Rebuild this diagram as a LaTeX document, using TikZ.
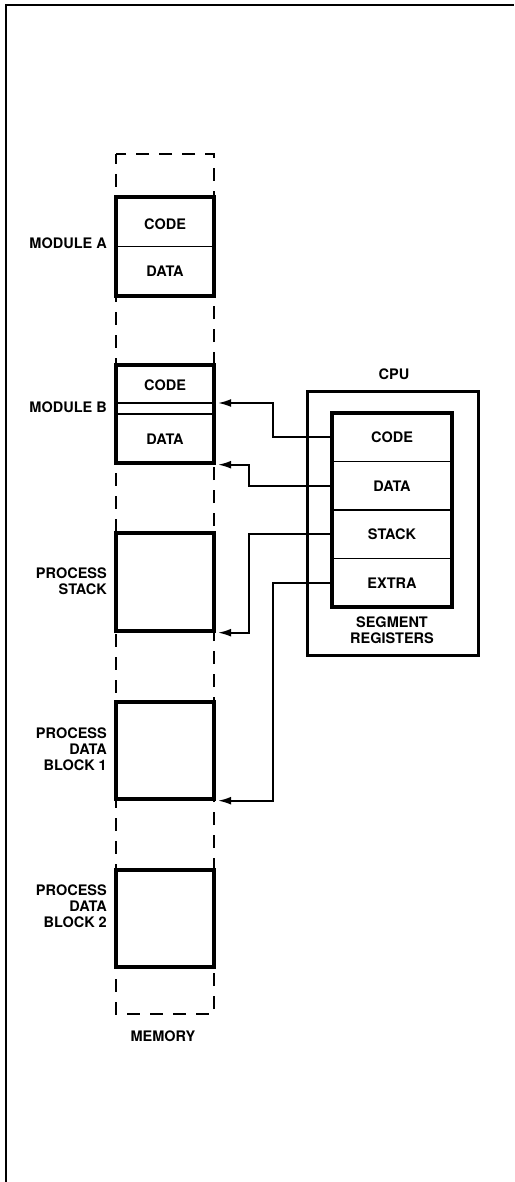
\documentclass[tikz,border=0pt]{standalone}
\usepackage{fontspec}
\setmainfont{TeX Gyre Heros}
\usetikzlibrary{arrows.meta,positioning,calc}

\begin{document}
\begin{tikzpicture}[x=1pt, y=-1pt, node distance=0pt,
  lbl/.style={font=\fontsize{14.5}{16}\selectfont\bfseries, align=right, anchor=east, inner sep=0pt},
  txt/.style={font=\fontsize{14.5}{16}\selectfont\bfseries, align=center, inner sep=0pt},
  memblock/.style={draw, line width=3.4pt, fill=white, minimum width=98pt, minimum height=98pt, inner sep=0pt},
  reg/.style={draw, line width=1.8pt, minimum width=120pt, minimum height=48.5pt, inner sep=0pt, outer sep=0pt,
    font=\fontsize{14.5}{16}\selectfont\bfseries},
  link/.style={line width=1.6pt, -{Latex[length=13pt,width=8pt]}, shorten >=2.5pt}]
  \useasboundingbox (0,0) rectangle (514,1182);
  % page frame
  \draw[line width=2.6pt] (6,1182) -- (6,5) -- (514,5);

  % memory column
  \draw[line width=2.2pt, dash pattern=on 13pt off 10pt, dash phase=3pt] (116,154) rectangle (214,1014);
  \node[txt] (mem) at (163,1036) {MEMORY};

  \node[memblock, minimum height=99pt] (modA) at (165,246.5) {};
  \draw[line width=1.8pt] (modA.west) -- (modA.east);
  \node[txt] (modAcode) at (165,224) {CODE};
  \node[txt] (modAdata) at (165,271) {DATA};
  \node[lbl] (labA) at (107,243) {MODULE A};

  \node[memblock] (modB) at (165,414) {};
  \draw[line width=1.8pt] ([yshift=11pt]modB.west) -- ([yshift=11pt]modB.east);
  \draw[line width=1.8pt] (modB.west) -- (modB.east);
  \node[txt] (modBcode) at (165,385) {CODE};
  \node[txt] (modBdata) at (165,439) {DATA};
  \node[lbl] (labB) at (107,407) {MODULE B};

  \node[memblock] (stk) at (165,582) {};
  \node[lbl] (labS) at (107,581) {PROCESS\\STACK};

  \node[memblock, minimum height=97pt] (blk1) at (165,750.5) {};
  \node[lbl] (lab1) at (107,749) {PROCESS\\DATA\\BLOCK 1};

  \node[memblock, minimum height=97pt] (blk2) at (165,918.5) {};
  \node[lbl] (lab2) at (107,906) {PROCESS\\DATA\\BLOCK 2};

  % cpu and segment registers
  \node[draw, line width=3pt, minimum width=171pt, minimum height=264pt] (cpu) at (392.5,523) {};
  \node[txt] (cpulab) at (394,374) {CPU};
  \node[reg] (rCode) at (392,437.25) {CODE};
  \node[reg, below=of rCode] (rData) {DATA};
  \node[reg, below=of rData] (rStack) {STACK};
  \node[reg, below=of rStack] (rExtra) {EXTRA};
  \draw[line width=3.4pt] (rCode.north west) rectangle (rExtra.south east);
  \node[txt] (seg) at (392,630) {SEGMENT\\REGISTERS};

  % segment pointers
  \draw[link] (rCode.west) -- ++(-59,0) |- ([yshift=11pt]modB.east);
  \draw[link] (rData.west) -- ++(-83,0) |- (modB.south east);
  \draw[link] (rStack.west) -- ++(-83,0) |- (stk.south east);
  \draw[link] (rExtra.west) -- ++(-59,0) |- (blk1.south east);
\end{tikzpicture}
\end{document}
